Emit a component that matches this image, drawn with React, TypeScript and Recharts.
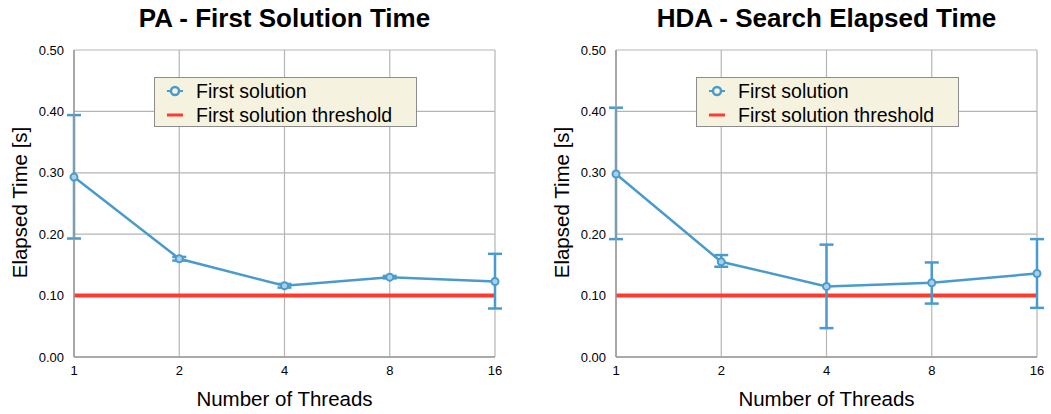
import React from "react";
import { LineChart, Line, XAxis, YAxis, CartesianGrid, ErrorBar } from "recharts";

const threads = ["1", "2", "4", "8", "16"];
const yTicks = [0, 0.1, 0.2, 0.3, 0.4, 0.5];

const paValues = [0.293, 0.16, 0.116, 0.13, 0.123];
const paErrMinus = [0.1, 0.003, 0.003, 0.002, 0.044];
const paErrPlus = [0.101, 0.003, 0.003, 0.002, 0.045];

const hdaValues = [0.298, 0.155, 0.115, 0.121, 0.136];
const hdaErrMinus = [0.106, 0.008, 0.068, 0.034, 0.056];
const hdaErrPlus = [0.108, 0.011, 0.068, 0.033, 0.056];

const threshold = [0.1, 0.1, 0.1, 0.1, 0.1];

const BLUE = "#4a9bcd";
const RED = "#ff3b30";
const GRID = "#b5b5b5";
const FONT = "'Liberation Sans', Arial, Helvetica, sans-serif";

function buildData(values: number[], minus: number[], plus: number[]) {
  return threads.map((t, i) => ({
    threads: t,
    value: values[i],
    err: [minus[i], plus[i]],
    threshold: threshold[i],
  }));
}

const LegendBox = () => (
  <div
    style={{
      width: 263,
      height: 50,
      background: "#f5f3df",
      border: "1px solid #8c8c8c",
      boxSizing: "border-box",
      fontFamily: FONT,
      fontSize: 19.5,
      color: "#000",
      position: "relative",
    }}
  >
    <svg width={30} height={48} style={{ position: "absolute", left: 8, top: 0 }}>
      <line x1={4} y1={13} x2={20} y2={13} stroke={BLUE} strokeWidth={2} />
      <circle cx={12} cy={13} r={4} fill="#f5f3df" stroke={BLUE} strokeWidth={2.5} />
      <line x1={4} y1={37} x2={20} y2={37} stroke={RED} strokeWidth={3} />
    </svg>
    <div style={{ position: "absolute", left: 41, top: 2, lineHeight: "22px", whiteSpace: "nowrap" }}>First solution</div>
    <div style={{ position: "absolute", left: 41, top: 26, lineHeight: "22px", whiteSpace: "nowrap" }}>First solution threshold</div>
  </div>
);

const YLabel = (props: any) => {
  const vb = props.viewBox || {};
  const x = 19;
  const y = vb.y + vb.height / 2 - 1;
  return (
    <text
      x={x}
      y={y}
      transform={`rotate(-90, ${x}, ${y})`}
      textAnchor="middle"
      dominantBaseline="central"
      fontFamily={FONT}
      fontSize={20.5}
      fill="#000"
    >
      Elapsed Time [s]
    </text>
  );
};

function Panel({ title, data, left, width, marginRight }: any) {
  const plotLeft = 74;
  const plotRight = width - marginRight;
  return (
    <div style={{ position: "absolute", left, top: 0, width, height: 414 }}>
      <LineChart
        width={width}
        height={414}
        data={data}
        margin={{ top: 50, right: marginRight, bottom: 0, left: 0 }}
      >
        <CartesianGrid stroke={GRID} strokeWidth={1.2} />
        <XAxis
          dataKey="threads"
          tickLine={false}
          tickSize={0}
          tickMargin={9}
          axisLine={{ stroke: "#9a9a9a", strokeWidth: 1.5 }}
          tick={{ fontFamily: FONT, fontSize: 13, fill: "#000" }}
          height={57}
          interval={0}
        />
        <YAxis
          width={74}
          domain={[0, 0.5]}
          ticks={yTicks}
          tickFormatter={(v: number) => v.toFixed(2)}
          tickLine={false}
          tickSize={0}
          tickMargin={10}
          axisLine={{ stroke: "#9a9a9a", strokeWidth: 1.5 }}
          tick={{ fontFamily: FONT, fontSize: 13, fill: "#000" }}
          label={<YLabel />}
        />
        <Line
          dataKey="threshold"
          stroke={RED}
          strokeWidth={4}
          dot={false}
          activeDot={false}
          isAnimationActive={false}
        />
        <Line
          dataKey="value"
          stroke={BLUE}
          strokeWidth={2.5}
          dot={{ r: 3.5, fill: "#a9d0ea", stroke: BLUE, strokeWidth: 2 }}
          activeDot={false}
          isAnimationActive={false}
        >
          <ErrorBar dataKey="err" direction="y" width={7} stroke={BLUE} strokeWidth={2.5} />
        </Line>
        <text
          x={(plotLeft + plotRight) / 2}
          y={27}
          textAnchor="middle"
          fontFamily={FONT}
          fontWeight="bold"
          fontSize={26}
          fill="#000"
        >
          {title}
        </text>
        <text
          x={(plotLeft + plotRight) / 2}
          y={406}
          textAnchor="middle"
          fontFamily={FONT}
          fontSize={20.5}
          fill="#000"
        >
          Number of Threads
        </text>
      </LineChart>
      <div style={{ position: "absolute", left: plotLeft + 80, top: 77 }}>
        <LegendBox />
      </div>
    </div>
  );
}

export default function App() {
  const paData = buildData(paValues, paErrMinus, paErrPlus);
  const hdaData = buildData(hdaValues, hdaErrMinus, hdaErrPlus);
  return (
    <div style={{ position: "absolute", left: 0, top: 0, width: 1051, height: 414, background: "#fff", overflow: "hidden" }}>
      <Panel title="PA - First Solution Time" data={paData} left={0} width={525} marginRight={30} />
      <Panel title="HDA - Search Elapsed Time" data={hdaData} left={542} width={509} marginRight={14} />
    </div>
  );
}
